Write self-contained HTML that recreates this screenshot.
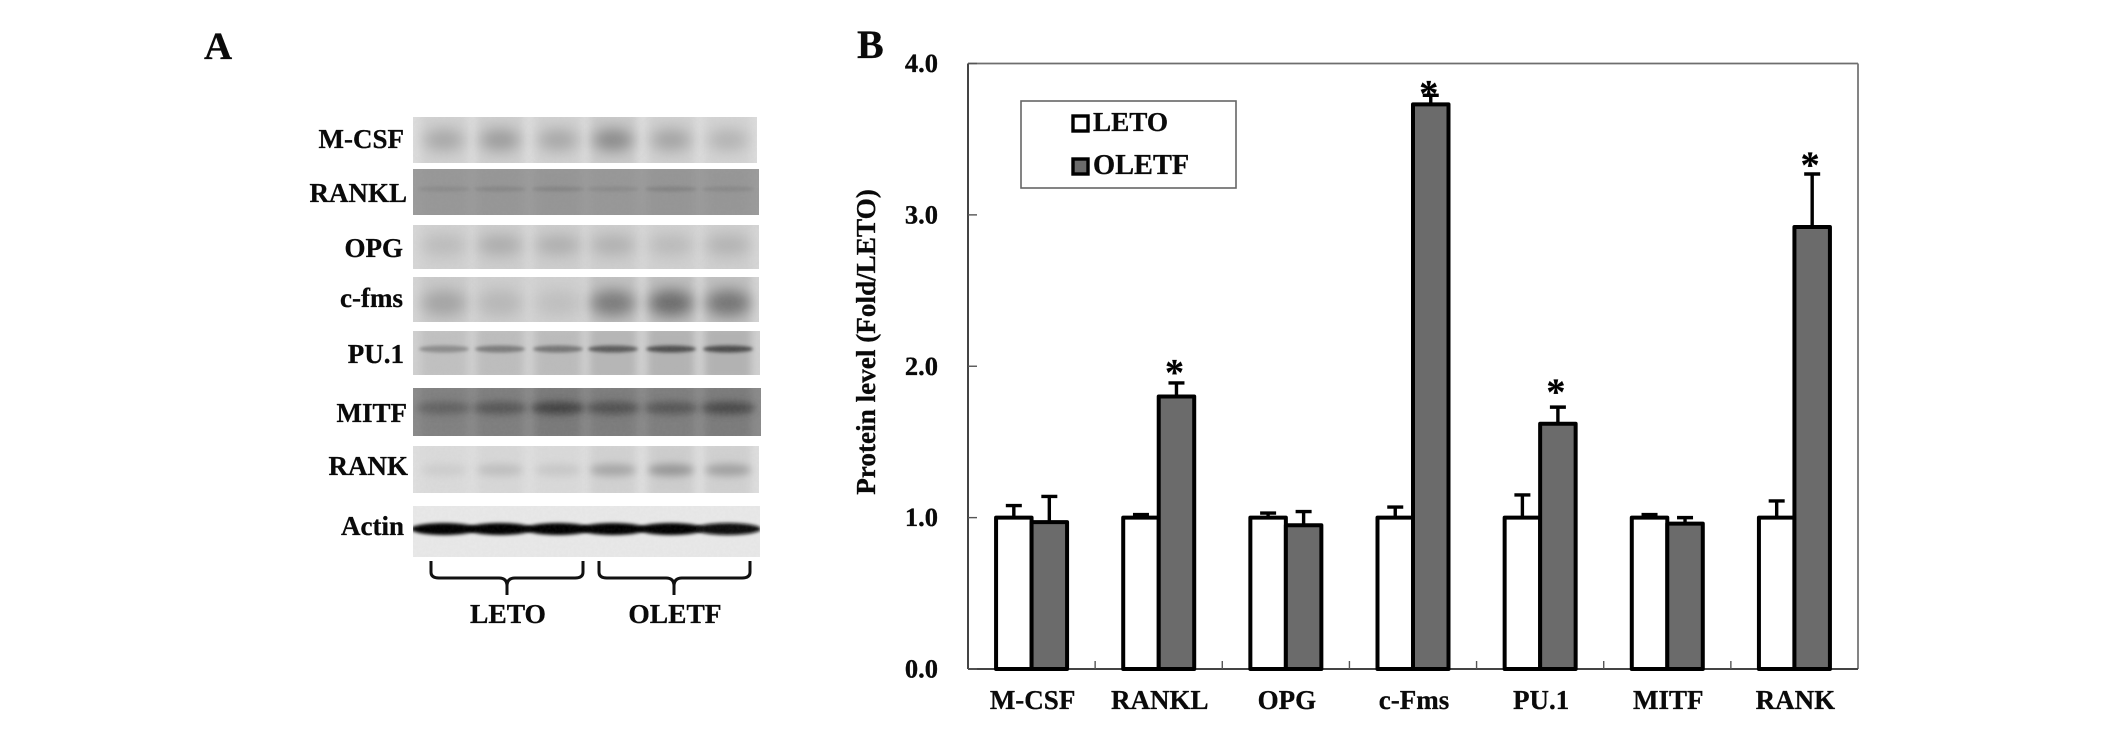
<!DOCTYPE html>
<html lang="en">
<head>
<meta charset="utf-8">
<title>Protein levels: western blot and bar chart</title>
<style>
html,body{margin:0;padding:0;background:#fff;width:2124px;height:740px;overflow:hidden}
svg{display:block}
text{font-family:"Liberation Serif","Times New Roman",serif;font-weight:bold;fill:#0a0a0a;stroke:#0a0a0a;stroke-width:0.3px}
</style>
</head>
<body>
<svg id="figure" xmlns="http://www.w3.org/2000/svg" width="2124" height="740" viewBox="0 0 2124 740">
  <defs>
    <filter id="blur-soft" x="-50%" y="-100%" width="200%" height="300%"><feGaussianBlur stdDeviation="7"/></filter>
    <filter id="blur-med" x="-50%" y="-100%" width="200%" height="300%"><feGaussianBlur stdDeviation="4"/></filter>
    <filter id="blur-thin" x="-30%" y="-100%" width="160%" height="300%"><feGaussianBlur stdDeviation="1.6"/></filter>
    <filter id="blot-grain" x="0" y="0" width="100%" height="100%">
      <feTurbulence type="fractalNoise" baseFrequency="0.35" numOctaves="2" seed="4"/>
      <feColorMatrix type="matrix" values="0 0 0 0 0.45  0 0 0 0 0.45  0 0 0 0 0.45  0.5 0 0 0 -0.15"/>
    </filter>
  </defs>

  <text x="204" y="59" font-size="39">A</text>
  <text x="857" y="58" font-size="40">B</text>

  <g id="blot-panel"></g>

  <g fill="none" stroke="#111" stroke-width="3">
    <path d="M431 561 V572 Q431 578 439 578 H499 Q507 578 507 586 V595 M507 586 Q507 578 515 578 H575 Q583 578 583 572 V561"/>
    <path d="M599 561 V572 Q599 578 607 578 H666 Q674 578 674 586 V595 M674 586 Q674 578 682 578 H742 Q750 578 750 572 V561"/>
  </g>
  <text x="508" y="623" font-size="27.5" text-anchor="middle">LETO</text>
  <text x="675" y="623" font-size="27.5" text-anchor="middle">OLETF</text>

  <g id="chart"></g>

  <text transform="translate(875 342) rotate(-90)" font-size="27.2" text-anchor="middle">Protein level (Fold/LETO)</text>

  <g>
    <rect x="1021" y="101" width="215" height="87" fill="#fff" stroke="#666" stroke-width="1.6"/>
    <rect x="1073" y="116" width="15" height="15" fill="#fff" stroke="#000" stroke-width="3.4"/>
    <text x="1093" y="131" font-size="27.2">LETO</text>
    <rect x="1073" y="159" width="15" height="15" fill="#6b6b6b" stroke="#000" stroke-width="3.4"/>
    <text x="1093" y="174" font-size="28.4">OLETF</text>
  </g>
</svg>

<script>
// ---- Bar chart data ----
const categories = ['M-CSF', 'RANKL', 'OPG', 'c-Fms', 'PU.1', 'MITF', 'RANK'];
const letoValues = [1.0, 1.0, 1.0, 1.0, 1.0, 1.0, 1.0];
const oletfValues = [0.97, 1.80, 0.95, 3.73, 1.62, 0.96, 2.92];
const letoErrors = [0.08, 0.02, 0.03, 0.07, 0.15, 0.02, 0.11];
const oletfErrors = [0.17, 0.09, 0.09, 0.06, 0.11, 0.04, 0.35];
const starLevels = [null, 1.99, null, 3.83, 1.86, null, 3.36];
const yTicks = ['0.0', '1.0', '2.0', '3.0', '4.0'];

// ---- Blot data ----
const blotRows = ['M-CSF', 'RANKL', 'OPG', 'c-fms', 'PU.1', 'MITF', 'RANK', 'Actin'];
const blotBackgrounds = ['#dcdcdc', '#9b9b9b', '#d6d6d6', '#d4d4d4', '#d0d0d0', '#8a8a8a', '#dedede', '#e8e8e8'];
const blotBandShades = [
  ['#a8a8a8', '#9c9c9c', '#a8a8a8', '#8a8a8a', '#a4a4a4', '#b4b4b4'],
  ['#8a8a8a', '#868686', '#848484', '#8a8a8a', '#828282', '#888888'],
  ['#bbbbbb', '#acacac', '#aeaeae', '#b0b0b0', '#bababa', '#b2b2b2'],
  ['#a4a4a4', '#b8b8b8', '#c0c0c0', '#7c7c7c', '#6c6c6c', '#747474'],
  ['#8c8c8c', '#7c7c7c', '#767676', '#5c5c5c', '#505050', '#4c4c4c'],
  ['#606060', '#545454', '#404040', '#4f4f4f', '#555555', '#464646'],
  ['#cdcdcd', '#bfbfbf', '#c8c8c8', '#a6a6a6', '#969696', '#a0a0a0'],
  ['#050505', '#000000', '#050505', '#000000', '#050505', '#0a0a0a']
];

const svgNS = 'http://www.w3.org/2000/svg';
function mk(tag, parent, attrs) {
  const el = document.createElementNS(svgNS, tag);
  for (const k in attrs) el.setAttribute(k, attrs[k]);
  parent.appendChild(el);
  return el;
}
function slug(s) { return s.toLowerCase().replace(/[^a-z0-9]+/g, '-'); }

// ---- Axis functions ----
const plotLeft = 968, plotRight = 1858, plotTop = 63.5, plotBottom = 669, yMax = 4;
const yScale = v => plotBottom - (v / yMax) * (plotBottom - plotTop);
const bandStep = (plotRight - plotLeft) / categories.length;
const xCenter = i => plotLeft + bandStep * (i + 0.5);
const barWidth = 35.5;

const chart = document.getElementById('chart');

// Frame
const frameTop = mk('line', chart, {x1: plotLeft, x2: plotRight, y1: plotTop, y2: plotTop, stroke: '#6e6e6e', 'stroke-width': 1.8});


const frameRight = mk('line', chart, {x1: plotRight, x2: plotRight, y1: plotTop, y2: plotBottom, stroke: '#777', 'stroke-width': 1.8});


const yAxis = mk('line', chart, {x1: plotLeft, x2: plotLeft, y1: plotTop, y2: plotBottom, stroke: '#444', 'stroke-width': 2});


const xAxis = mk('line', chart, {x1: plotLeft, x2: plotRight, y1: plotBottom, y2: plotBottom, stroke: '#444', 'stroke-width': 2});



// Y ticks
yTicks.forEach(label => {
  const v = parseFloat(label);
  const tick = mk('line', chart, {x1: plotLeft, x2: plotLeft + 9, y1: yScale(v), y2: yScale(v), stroke: '#555', 'stroke-width': 1.4});
  
  
  const t = mk('text', chart, {x: 938, y: yScale(v) + 8.5, 'font-size': 26.5, 'text-anchor': 'end'});
  
  
  t.textContent = label;
});

// X ticks between categories
categories.forEach((c, i) => {
  if (i === 0) return;
  const x = plotLeft + bandStep * i;
  const tick = mk('line', chart, {x1: x, x2: x, y1: plotBottom, y2: plotBottom - 8, stroke: '#555', 'stroke-width': 1.4});
  
  
});

function drawBar(i, value, error, side, fill, series) {
  const cx = xCenter(i);
  const left = side < 0 ? cx - barWidth : cx;
  const mid = left + barWidth / 2;
  const stem = mk('line', chart, {x1: mid, x2: mid, y1: yScale(value), y2: yScale(value + error), stroke: '#000', 'stroke-width': 3.4});
  
  
  const cap = mk('line', chart, {x1: mid - 8, x2: mid + 8, y1: yScale(value + error), y2: yScale(value + error), stroke: '#000', 'stroke-width': 3.4});
  
  
  const bar = mk('rect', chart, {x: left, y: yScale(value), width: barWidth, height: yScale(0) - yScale(value), fill: fill, stroke: '#000', 'stroke-width': 4, 'stroke-linejoin': 'round'});
  
  
}

categories.forEach((c, i) => {
  drawBar(i, letoValues[i], letoErrors[i], -1, '#fff', 'leto');
  drawBar(i, oletfValues[i], oletfErrors[i], 1, '#6b6b6b', 'oletf');
  const label = mk('text', chart, {x: xCenter(i) + 1, y: 709, 'font-size': 27, 'text-anchor': 'middle'});
  
  
  label.textContent = c;
  if (starLevels[i] !== null) {
    const star = mk('text', chart, {x: xCenter(i) + barWidth / 2 - 2, y: yScale(starLevels[i]) + 17, 'font-size': 38, 'text-anchor': 'middle'});
    
    
    star.style.fill = '#000';
    star.textContent = '*';
  }
});

// ---- Western blot panel ----
const blot = document.getElementById('blot-panel');
const blotLeft = 413;
const blotRights = [757, 759, 759, 759, 760, 761, 759, 760];
const blotTops = [117, 169, 225, 277, 331, 388, 446, 506];
const blotBottoms = [163, 215, 269, 322, 375, 436, 493, 557];
const laneCenters = [444, 500, 558, 613, 671, 728];
const bandYs = [140, 189, 245, 303, 349, 408, 470, 529];
const bandRx = [20, 26, 22, 22, 25, 27, 23, 33];
const bandRy = [11, 2.5, 10, 13, 3.5, 6, 6, 6];
const bandBlur = ['blur-soft', 'blur-thin', 'blur-soft', 'blur-soft', 'blur-thin', 'blur-med', 'blur-med', 'blur-thin'];
const bandLabelBaselines = [148, 202, 257, 307, 363, 422, 475, 535];
const bandLabelRights = [404, 407, 403, 403, 404, 407, 408, 404];

blotRows.forEach((name, r) => {
  const key = slug(name);
  const w = blotRights[r] - blotLeft;
  const h = blotBottoms[r] - blotTops[r];
  const clip = mk('clipPath', blot, {id: 'clip-' + key});
  mk('rect', clip, {x: blotLeft, y: blotTops[r], width: w, height: h});
  const g = mk('g', blot, {'clip-path': 'url(#clip-' + key + ')'});
  
  
  const bg = mk('rect', g, {x: blotLeft, y: blotTops[r], width: w, height: h, fill: blotBackgrounds[r]});
  
  
  laneCenters.forEach((lx, l) => {
    if (r !== 7) {
      const halo = mk('rect', g, {x: lx - 23, y: blotTops[r] - 5, width: 46, height: h + 10, fill: blotBandShades[r][l], opacity: 0.22, filter: 'url(#blur-med)'});
      
      
    }
    const band = mk('ellipse', g, {cx: lx, cy: bandYs[r], rx: bandRx[r], ry: bandRy[r], fill: blotBandShades[r][l], filter: 'url(#' + bandBlur[r] + ')'});
    
    
  });
  const grain = mk('rect', g, {x: blotLeft, y: blotTops[r], width: w, height: h, filter: 'url(#blot-grain)', opacity: 0.22});
  
  
  const label = mk('text', blot, {x: bandLabelRights[r], y: bandLabelBaselines[r], 'font-size': 27, 'text-anchor': 'end'});
  
  
  label.textContent = name;
});
</script>
</body>
</html>
